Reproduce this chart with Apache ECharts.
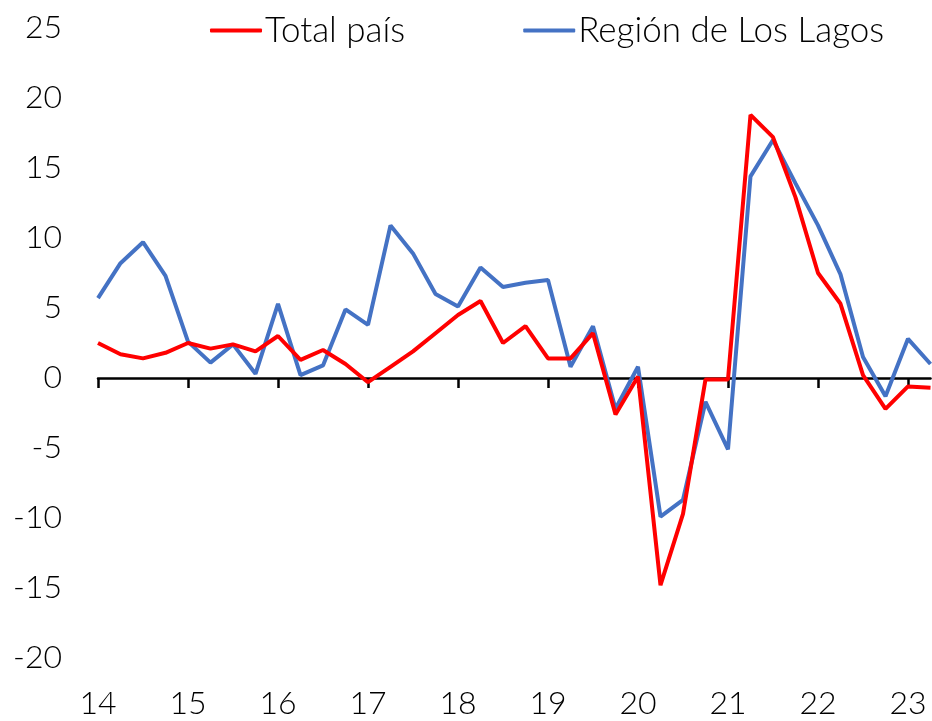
<!DOCTYPE html>
<html>
<head>
<meta charset="utf-8">
<script src="https://cdn.jsdelivr.net/npm/echarts@6/dist/echarts.min.js"></script>
<style>
  html, body { margin: 0; padding: 0; background: #fff; }
  #chart { width: 932px; height: 721px; }
</style>
</head>
<body>
<div id="chart"></div>
<script>
// Quarterly series, 2014 Q1 to 2023 Q2 (annual % change)
const quarters = [
  '14-1','14-2','14-3','14-4','15-1','15-2','15-3','15-4',
  '16-1','16-2','16-3','16-4','17-1','17-2','17-3','17-4',
  '18-1','18-2','18-3','18-4','19-1','19-2','19-3','19-4',
  '20-1','20-2','20-3','20-4','21-1','21-2','21-3','21-4',
  '22-1','22-2','22-3','22-4','23-1','23-2'
];
const totalPais = [
  2.5, 1.7, 1.4, 1.8, 2.5, 2.1, 2.4, 1.9,
  3.0, 1.3, 2.0, 1.0, -0.3, 0.8, 1.9, 3.2,
  4.5, 5.5, 2.5, 3.7, 1.4, 1.4, 3.2, -2.6,
  0.1, -14.8, -9.7, -0.1, -0.1, 18.8, 17.2, 12.9,
  7.5, 5.3, 0.2, -2.2, -0.6, -0.7
];
const losLagos = [
  5.7, 8.2, 9.7, 7.3, 2.6, 1.1, 2.4, 0.3,
  5.3, 0.2, 0.9, 4.9, 3.8, 10.9, 8.9, 6.0,
  5.1, 7.9, 6.5, 6.8, 7.0, 0.8, 3.7, -2.2,
  0.8, -9.9, -8.7, -1.7, -5.1, 14.4, 17.0, 13.9,
  10.9, 7.4, 1.5, -1.3, 2.8, 1.0
];
const seriesNames = ['Total país', 'Región de Los Lagos'];

const fontFamily = 'Lato, "Open Sans", sans-serif';
const chart = echarts.init(document.getElementById('chart'));
chart.setOption({
  animation: false,
  backgroundColor: '#ffffff',
  textStyle: { fontFamily: fontFamily },
  legend: {
    left: 205,
    top: 8,
    itemWidth: 52,
    itemHeight: 4,
    itemGap: 118,
    icon: 'roundRect',
    textStyle: { fontSize: 35, fontWeight: 300, color: '#000', fontFamily: fontFamily, padding: [0, 0, 0, -2] },
    data: seriesNames
  },
  grid: {
    left: 98, right: 1.5, top: 28, bottom: 63,
    containLabel: false,
    outerBoundsMode: 'none'
  },
  xAxis: {
    type: 'category',
    data: quarters,
    boundaryGap: false,
    axisLine: { onZero: true, lineStyle: { color: '#000', width: 2.5 } },
    axisTick: { show: true, interval: 3, length: 10, lineStyle: { color: '#000', width: 2.5 } },
    axisLabel: {
      interval: 3,
      margin: 30,
      fontSize: 32,
      fontWeight: 300,
      color: '#000',
      fontFamily: fontFamily,
      formatter: v => v.split('-')[0]
    },
    splitLine: { show: false }
  },
  yAxis: {
    type: 'value',
    min: -20,
    max: 25,
    interval: 5,
    axisLine: { show: false },
    axisTick: { show: false },
    splitLine: { show: false },
    axisLabel: { margin: 36, fontSize: 32, fontWeight: 300, color: '#000', fontFamily: fontFamily }
  },
  series: [
    {
      name: seriesNames[0],
      type: 'line',
      data: totalPais,
      symbol: 'none',
      color: '#ff0000',
      lineStyle: { color: '#ff0000', width: 4 },
      z: 3
    },
    {
      name: seriesNames[1],
      type: 'line',
      data: losLagos,
      symbol: 'none',
      color: '#4472c4',
      lineStyle: { color: '#4472c4', width: 4 },
      z: 2
    }
  ]
});
</script>
</body>
</html>
